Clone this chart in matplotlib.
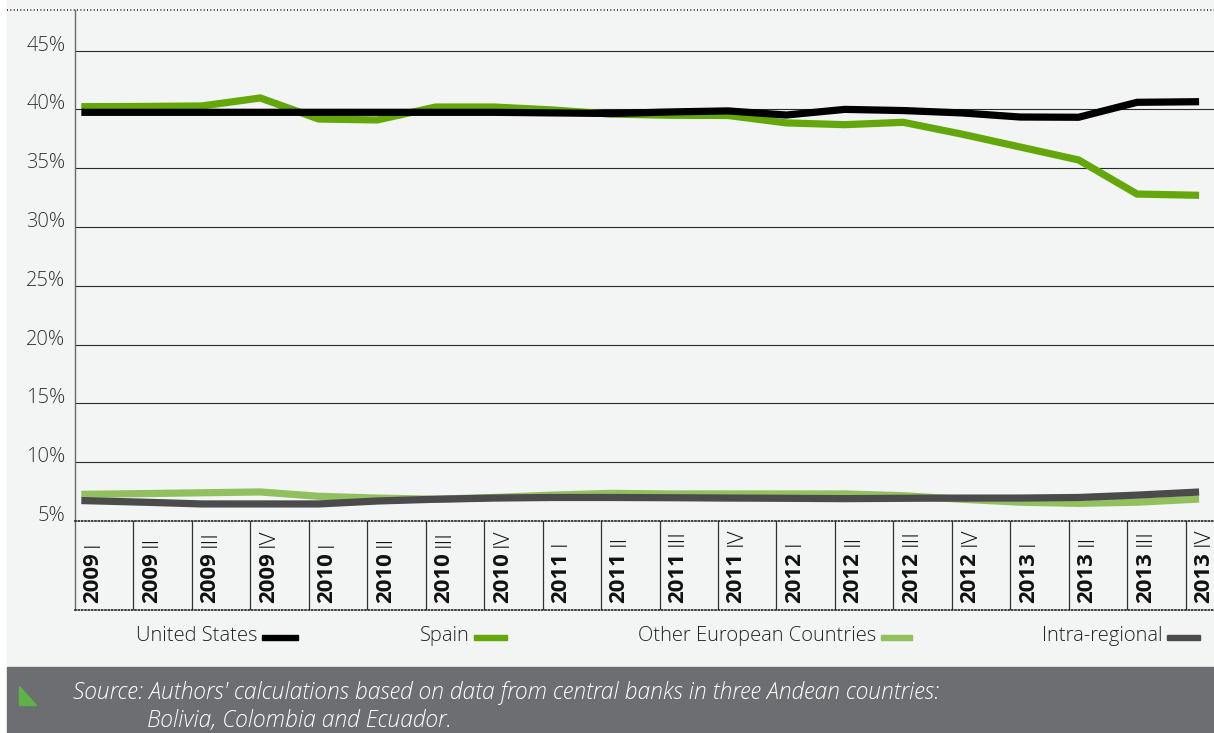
import numpy as np
import matplotlib
matplotlib.use("Agg")
import matplotlib.pyplot as plt
from matplotlib.lines import Line2D
from matplotlib.patches import Rectangle, Polygon

plt.rcParams['font.family'] = ['Open Sans', 'DejaVu Sans']

# quarterly share of remittance inflows by origin, %
quarters = ["2009 I", "2009 II", "2009 III", "2009 IV",
            "2010 I", "2010 II", "2010 III", "2010 IV",
            "2011 I", "2011 II", "2011 III", "2011 IV",
            "2012 I", "2012 II", "2012 III", "2012 IV",
            "2013 I", "2013 II", "2013 III", "2013 IV"]
united_states = [39.75, 39.75, 39.75, 39.75, 39.75, 39.75, 39.75, 39.75,
                 39.7, 39.65, 39.78, 39.87, 39.52, 40.0, 39.9, 39.7,
                 39.35, 39.33, 40.6, 40.65]
spain = [40.23, 40.25, 40.29, 40.97, 39.18, 39.1, 40.2, 40.2,
         39.95, 39.6, 39.5, 39.48, 38.85, 38.7, 38.9, 37.9,
         36.8, 35.7, 32.8, 32.7]
other_europe = [7.27, 7.33, 7.4, 7.47, 7.1, 6.95, 6.85, 7.0,
                7.2, 7.35, 7.3, 7.3, 7.3, 7.3, 7.15, 6.85,
                6.6, 6.5, 6.6, 6.85]
intra_regional = [6.73, 6.6, 6.45, 6.45, 6.45, 6.7, 6.85, 6.95,
                  7.0, 7.0, 6.98, 6.95, 6.93, 6.9, 6.93, 6.95,
                  6.95, 7.0, 7.2, 7.45]
yticks = [5, 10, 15, 20, 25, 30, 35, 40, 45]

series = [("United States", united_states, "#000000"),
          ("Spain", spain, "#63a70a"),
          ("Other European Countries", other_europe, "#93c05e"),
          ("Intra-regional", intra_regional, "#4b4b4d")]

W, H = 1214, 733
panel = "#f3f5f4"
fig = plt.figure(figsize=(W / 100, H / 100), dpi=100, facecolor="white")


def fx(px):
    return px / W


def fy(py):
    return 1 - py / H


# panel and footer backgrounds
fig.patches.append(Rectangle((fx(7), fy(667)), fx(W - 7), 667 / H,
                             transform=fig.transFigure, color=panel, zorder=-10))
fig.patches.append(Rectangle((fx(7), 0), fx(W - 7), (H - 667) / H,
                             transform=fig.transFigure, color="#6d6e72", zorder=-10))

dots = (0, (0.6, 1.4))
ncat = len(quarters)
xmax = (W - 75) / 58.45

# main plotting area
ax = fig.add_axes([fx(75), fy(521), fx(W) - fx(75), fy(10) - fy(521)])
ax.set_facecolor("none")
ax.set_xlim(0, xmax)
ax.set_ylim(5, 48.45)
for v in yticks[1:]:
    ax.axhline(v, color="#2a2a2a", lw=0.8, zorder=1)
for side in ["top", "right", "bottom"]:
    ax.spines[side].set_visible(False)
ax.spines["left"].set_color("#6a6a6a")
ax.spines["left"].set_linewidth(1.0)
ax.set_xticks([])
ax.set_yticks(yticks)
ax.set_yticklabels([f"{v}%" for v in yticks], fontsize=14.5, color="#333333",
                   fontweight="light")
ax.tick_params(axis="y", length=0, pad=7)
for lbl in ax.get_yticklabels():
    lbl.set_verticalalignment("baseline")

x = np.arange(ncat) + 0.17
ax.plot(x, spain, color="#63a70a", lw=5.2, solid_joinstyle="miter", zorder=3)
ax.plot(x, united_states, color="#000000", lw=5.2, solid_joinstyle="miter", zorder=4)
ax.plot(x, other_europe, color="#93c05e", lw=5.2, solid_joinstyle="miter", zorder=3)
ax.plot(x, intra_regional, color="#4b4b4d", lw=5.2, solid_joinstyle="miter", zorder=4)

# category label band
bx = fig.add_axes([fx(75), fy(610), fx(W) - fx(75), fy(521) - fy(610)])
bx.set_facecolor("none")
bx.set_xlim(0, xmax)
bx.set_ylim(0, 1)
bx.set_xticks([])
bx.set_yticks([])
bx.spines["right"].set_visible(False)
for side in ["top", "bottom"]:
    bx.spines[side].set_linestyle(dots)
    bx.spines[side].set_linewidth(1.2)
    bx.spines[side].set_color("#222222")
bx.spines["left"].set_color("#6a6a6a")
bx.spines["left"].set_linewidth(1.0)
for i in range(1, ncat):
    bx.axvline(i, color="#333333", lw=0.9)
for i, q in enumerate(quarters):
    year, num = q.split()
    t = bx.text(i + 0.31, 0.08, year, rotation=90, ha="center", va="bottom",
                fontsize=16, fontweight="bold", color="#111111")
    bx.annotate(num, xy=(0.5, 1), xycoords=t, xytext=(0, 4),
                textcoords="offset points", rotation=90, ha="center",
                va="bottom", fontsize=16, fontweight="light", color="#111111")

# dotted rule along the top of the panel
fig.add_artist(Line2D([fx(7), 1], [fy(10), fy(10)], transform=fig.transFigure,
                      color="#222222", lw=1.2, linestyle=dots))

# legend: label followed by a short bar
legend_pos = [(258, 262, 298), (470, 474, 507), (876, 881, 912), (1162, 1167, 1200)]
for (name, _, color), (tx, b0, b1) in zip(series, legend_pos):
    fig.text(fx(tx), fy(641), name, ha="right", va="baseline", fontsize=14.5,
             fontweight="light", color="#222222")
    fig.patches.append(Rectangle((fx(b0), fy(640)), fx(b1) - fx(b0), 5 / H,
                                 transform=fig.transFigure, color=color))

# source note
fig.patches.append(Polygon([[fx(19), fy(686)], [fx(19), fy(705)], [fx(36), fy(705)]],
                           closed=True, transform=fig.transFigure, color="#5db346"))
fig.text(fx(73), fy(699), "Source: Authors' calculations based on data from central banks "
         "in three Andean countries:", ha="left", va="baseline", fontsize=16.5,
         fontstyle="italic", fontweight="light", color="white")
fig.text(fx(147), fy(727), "Bolivia, Colombia and Ecuador.", ha="left", va="baseline",
         fontsize=16.5, fontstyle="italic", fontweight="light", color="white")

fig.savefig("out.png", dpi=100, facecolor=fig.get_facecolor())
